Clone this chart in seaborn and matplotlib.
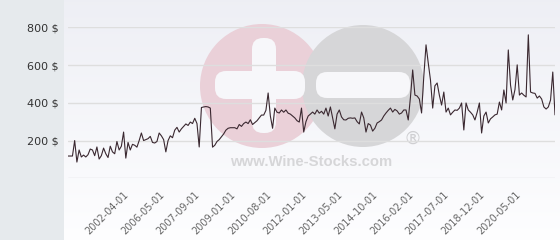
import numpy as np
import pandas as pd
import matplotlib
matplotlib.use("Agg")
import matplotlib.pyplot as plt
from matplotlib.patches import Circle, FancyBboxPatch
import seaborn as sns

# ---- data (monthly prices, $) ----
prices = [
    118, 118, 118, 200, 86, 150, 113, 123, 113, 125,
    155, 150, 120, 166, 102, 120, 160, 130, 110, 170,
    140, 130, 195, 150, 170, 245, 107, 190, 150, 180,
    175, 165, 200, 240, 200, 205, 210, 222, 190, 187,
    195, 240, 225, 205, 140, 200, 225, 215, 255, 270,
    245, 262, 275, 288, 280, 298, 290, 318, 290, 166,
    375, 378, 380, 378, 372, 165, 175, 195, 205, 220,
    235, 255, 265, 268, 268, 268, 262, 285, 275, 290,
    298, 290, 310, 285, 295, 305, 320, 335, 335, 360,
    452, 330, 265, 372, 350, 346, 362, 350, 362, 345,
    340, 330, 320, 305, 298, 372, 245, 300, 330, 340,
    351, 340, 362, 345, 355, 340, 372, 330, 378, 320,
    262, 340, 362, 325, 310, 309, 318, 320, 318, 320,
    300, 288, 351, 320, 245, 290, 282, 250, 265, 293,
    300, 309, 330, 346, 360, 372, 351, 365, 357, 340,
    346, 362, 362, 309, 430, 574, 441, 436, 420, 346,
    540, 707, 611, 521, 372, 490, 505, 440, 388, 457,
    351, 372, 336, 350, 362, 360, 372, 399, 256, 399,
    362, 350, 336, 309, 350, 399, 240, 330, 351, 293,
    315, 325, 336, 340, 404, 362, 468, 399, 680, 494,
    415, 470, 601, 441, 452, 440, 431, 760, 457, 452,
    450, 425, 436, 420, 378, 367, 378, 415, 563, 336,
]
tick_labels = ['2002-04-01', '2006-05-01', '2007-09-01', '2009-01-01',
               '2010-08-01', '2012-01-01', '2013-05-01', '2014-10-01',
               '2016-02-01', '2017-07-01', '2018-12-01', '2020-05-01']
tick_first = 25
tick_every = 16
y_ticks = [0, 200, 400, 600, 800]
y_labels = ['', '200 $', '400 $', '600 $', '800 $']

df = pd.DataFrame({'idx': np.arange(len(prices)), 'price': prices})

sns.set_theme(style='white')
plt.rcParams['font.family'] = ['DejaVu Sans']

W, H = 560, 240
fig = plt.figure(figsize=(W / 100, H / 100), dpi=100)
fig.patch.set_facecolor('#e6eaed')

# background gradient of plot region
bg = fig.add_axes([64 / W, 0, 1 - 64 / W, 1], zorder=-10)
grad = np.linspace(0, 1, 256).reshape(-1, 1)
top = np.array([0.933, 0.937, 0.960])
bot = np.array([0.995, 0.995, 1.0])
img = top[None, None, :] * (1 - grad[:, :, None]) + bot[None, None, :] * grad[:, :, None]
bg.imshow(img, aspect='auto', extent=[0, 1, 0, 1])
bg.set_axis_off()


def px(x, y):
    return (x / 100, (H - y) / 100)


tr = fig.dpi_scale_trans
# watermark
fig.add_artist(Circle(px(262, 86), 0.62, transform=tr, facecolor='#ead0d8',
                      edgecolor='none', zorder=-5))
fig.add_artist(Circle(px(363, 86), 0.61, transform=tr, facecolor='#d6d6d8',
                      edgecolor='none', zorder=-4))
for (x0, y0, x1, y1) in [(252, 38, 276, 133), (215, 71, 305, 99), (316, 72, 410, 98)]:
    bx, by = px(x0, y1)
    fig.add_artist(FancyBboxPatch((bx + 0.11, by + 0.11), (x1 - x0) / 100 - 0.22,
                                  (y1 - y0) / 100 - 0.22,
                                  boxstyle='round,pad=0.11', transform=tr,
                                  facecolor='#f7f7fa', edgecolor='none', zorder=-3))
fig.text(311 / W, 1 - 162 / H, 'www.Wine-Stocks.com', ha='center', va='center',
         fontsize=10.7, fontweight='bold', family='Liberation Sans',
         color='#d6d6d8', zorder=-3)
fig.text(413 / W, 1 - 139 / H, '®', ha='center', va='center', fontsize=13,
         color='#cfcfd2', zorder=-3)

ax = fig.add_axes([68 / W, (H - 178.3) / H, 487 / W, 151 / H])
ax.set_facecolor('none')
sns.lineplot(data=df, x='idx', y='price', ax=ax, color='#3a2830', linewidth=0.8)

ax.set_xlim(0, len(prices) - 1)
ax.set_ylim(0, 800)
ax.set_yticks(y_ticks)
ax.set_yticklabels(y_labels, fontsize=8, color='#333333')
ticks = [tick_first + tick_every * k for k in range(len(tick_labels))]
ax.set_xticks(ticks)
ax.set_xticklabels(tick_labels, rotation=45, ha='right', va='top',
                   rotation_mode='anchor', fontsize=7, color='#666666')
ax.tick_params(axis='both', length=0)
ax.tick_params(axis='y', pad=6.5)
ax.tick_params(axis='x', pad=8)
ax.grid(axis='y', color='#dedede', linewidth=1)
ax.grid(axis='x', visible=False)
ax.set_axisbelow(True)
for s in ax.spines.values():
    s.set_visible(False)
ax.set_xlabel('')
ax.set_ylabel('')

fig.savefig('out.png', dpi=100)
